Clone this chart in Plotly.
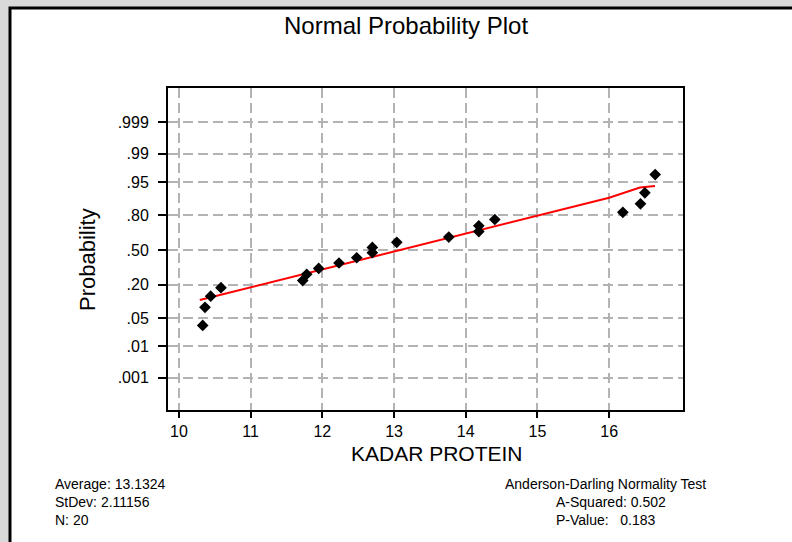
import plotly.graph_objects as go
from statistics import NormalDist

# ---- data ----
kadar_protein = [10.331, 10.363, 10.442, 10.586, 11.726, 11.782, 11.949, 12.232,
                 12.479, 12.697, 12.697, 13.038, 13.763, 14.182, 14.182, 14.405,
                 16.191, 16.437, 16.498, 16.642]
probability = [0.034, 0.083, 0.132, 0.181, 0.230, 0.279, 0.328, 0.377, 0.426, 0.475,
               0.525, 0.574, 0.623, 0.672, 0.721, 0.770, 0.819, 0.868, 0.917, 0.966]
fit_x = [10.29, 16.00, 16.43, 16.64]
fit_p = [0.113, 0.897, 0.935, 0.939]
prob_ticks = [0.001, 0.01, 0.05, 0.20, 0.50, 0.80, 0.95, 0.99, 0.999]
prob_tick_text = [".001", ".01", ".05", ".20", ".50", ".80", ".95", ".99", ".999"]
x_ticks = [10, 11, 12, 13, 14, 15, 16]
stats_left = ["Average: 13.1324", "StDev: 2.11156", "N: 20"]
stats_right = ["Anderson-Darling Normality Test", "A-Squared: 0.502", "P-Value:   0.183"]

nd = NormalDist()
z = lambda p: nd.inv_cdf(p)

FONT = "Liberation Sans, Arial, sans-serif"
W, H = 792, 542
L, R, T, B = 168, 683, 88, 410
pw, ph = R - L, B - T

def px(xp):
    return (xp - L) / pw

def py(yp):
    return (B - yp) / ph

fig = go.Figure()
fig.add_trace(go.Scatter(
    x=fit_x, y=[z(p) for p in fit_p], mode="lines",
    line=dict(color="#ff0000", width=2), hoverinfo="skip", showlegend=False))
fig.add_trace(go.Scatter(
    x=kadar_protein, y=[z(p) for p in probability], mode="markers",
    marker=dict(symbol="diamond", size=9, color="black"), showlegend=False))

axis_common = dict(
    showline=True, linecolor="black", linewidth=2, mirror=True,
    ticks="outside", tickcolor="black", tickwidth=2,
    showgrid=True, gridcolor="#b3b3b3", gridwidth=2, griddash="10px,5px",
    zeroline=False, tickfont=dict(family=FONT, size=16, color="black"),
)

fig.update_xaxes(range=[9.847, 17.03], tickvals=x_ticks, ticklen=6, **axis_common)
fig.update_yaxes(range=[-3.87, 3.92], tickvals=[z(p) for p in prob_ticks],
                 ticktext=prob_tick_text, ticklen=8, ticklabelstandoff=6, **axis_common)

annotations = [
    dict(text="Normal Probability Plot", x=px(406), y=py(25), font=dict(size=24)),
    dict(text="KADAR PROTEIN", x=px(437), y=py(453), font=dict(size=21)),
    dict(text="Probability", x=px(87), y=py(260), textangle=-90, font=dict(size=22)),
]
for i, s in enumerate(stats_left):
    annotations.append(dict(text=s, x=px(53), y=py(484 + 18 * i), xanchor="left",
                            font=dict(size=14)))
for i, s in enumerate(stats_right):
    annotations.append(dict(text=s, x=px(503 if i == 0 else 554), y=py(484 + 18 * i),
                            xanchor="left", font=dict(size=14)))
for a in annotations:
    a.setdefault("xanchor", "center")
    a.update(xref="paper", yref="paper", yanchor="middle", showarrow=False)
    a["font"].update(family=FONT, color="black")

fig.update_layout(
    width=W, height=H,
    margin=dict(l=L, r=W - R, t=T, b=H - B),
    paper_bgcolor="#d9d9d9", plot_bgcolor="white",
    annotations=annotations,
    shapes=[dict(type="rect", xref="paper", yref="paper",
                 x0=px(10), x1=px(820), y0=py(580), y1=py(8),
                 fillcolor="white", line=dict(color="black", width=3), layer="below")],
)

fig.write_html("out.html")
